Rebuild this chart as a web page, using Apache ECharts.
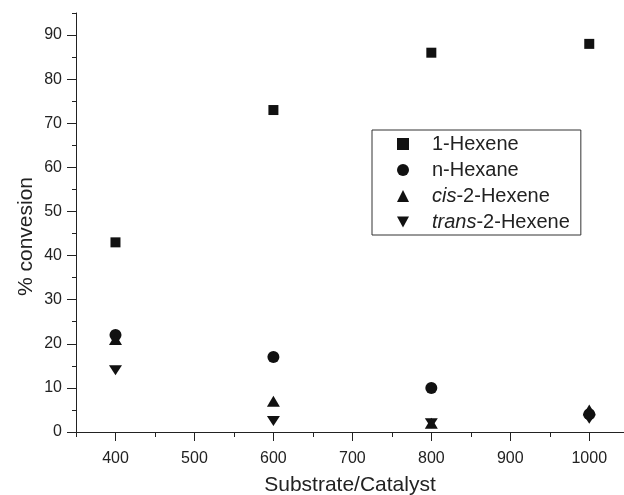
<!DOCTYPE html>
<html>
<head>
<meta charset="utf-8">
<script src="https://cdn.jsdelivr.net/npm/echarts@6/dist/echarts.min.js"></script>
<style>
html, body { margin: 0; padding: 0; background: #fff; }
#main { width: 624px; height: 495px; }
</style>
</head>
<body>
<div id="main"></div>
<script>
var ratios = [400, 600, 800, 1000];
var hexene1 = [43, 73, 86, 88];
var nHexane = [22, 17, 10, 4];
var cis2 = [21, 7, 2, 5];
var trans2 = [14, 2.5, 2, 3];

var xMajor = [400, 500, 600, 700, 800, 900, 1000];
var xMinor = [350, 450, 550, 650, 750, 850, 950];
var yMajor = [0, 10, 20, 30, 40, 50, 60, 70, 80, 90];
var yMinor = [5, 15, 25, 35, 45, 55, 65, 75, 85, 95];

var ink = '#111';
var font = 'Liberation Sans, Arial, sans-serif';
var downTri = 'path://M0,0 L12,0 L6,11 Z';

function pairs(ys) {
    return ratios.map(function (x, i) { return [x, ys[i]]; });
}

var chart = echarts.init(document.getElementById('main'));

var option = {
    animation: false,
    textStyle: { fontFamily: font, color: '#222' },
    grid: { left: 76, right: 0, top: 13, bottom: 63, outerBoundsMode: 'none', containLabel: false },
    legend: {
        orient: 'vertical',
        left: 372,
        top: 130,
        padding: [4, 11, 3, 25],
        itemWidth: 12,
        itemHeight: 12,
        itemGap: 6,
        borderColor: '#333',
        borderWidth: 1,
        textStyle: {
            fontFamily: font,
            fontSize: 20,
            color: '#222',
            padding: [0, 0, 0, 18],
            rich: { i: { fontStyle: 'italic', fontSize: 20, fontFamily: font, color: '#222' } }
        },
        formatter: function (name) {
            if (name === 'cis-2-Hexene') return '{i|cis}-2-Hexene';
            if (name === 'trans-2-Hexene') return '{i|trans}-2-Hexene';
            return name;
        },
        data: ['1-Hexene', 'n-Hexane', 'cis-2-Hexene', 'trans-2-Hexene']
    },
    xAxis: [{
        type: 'value',
        min: 350,
        max: 1044,
        name: 'Substrate/Catalyst',
        nameLocation: 'middle',
        nameGap: 43,
        nameMoveOverlap: false,
        nameTextStyle: { fontSize: 21, color: '#222', fontFamily: font },
        splitLine: { show: false },
        axisLine: { lineStyle: { color: '#222', width: 1 } },
        axisTick: { inside: false, length: 9, customValues: xMajor, lineStyle: { color: '#222' } },
        axisLabel: {
            fontSize: 16, color: '#222', margin: 19, customValues: xMajor,
            formatter: function (v) { return String(v); }
        }
    }, {
        type: 'value',
        min: 350,
        max: 1044,
        position: 'bottom',
        splitLine: { show: false },
        axisLine: { show: false },
        axisTick: { length: 5, customValues: xMinor, lineStyle: { color: '#222' } },
        axisLabel: { show: false }
    }],
    yAxis: [{
        type: 'value',
        min: 0,
        max: 95,
        name: '% convesion',
        nameLocation: 'middle',
        nameGap: 39,
        nameMoveOverlap: false,
        nameTextStyle: { fontSize: 21, color: '#222', fontFamily: font, padding: [0, 28, 0, 0] },
        splitLine: { show: false },
        axisLine: { lineStyle: { color: '#222', width: 1 } },
        axisTick: { length: 9, customValues: yMajor, lineStyle: { color: '#222' } },
        axisLabel: { fontSize: 16, color: '#222', margin: 14, customValues: yMajor }
    }, {
        type: 'value',
        min: 0,
        max: 95,
        position: 'left',
        splitLine: { show: false },
        axisLine: { show: false },
        axisTick: { length: 4, customValues: yMinor, lineStyle: { color: '#222' } },
        axisLabel: { show: false }
    }],
    series: [{
        name: '1-Hexene',
        type: 'scatter',
        symbol: 'rect',
        symbolSize: 10,
        symbolKeepAspect: true,
        itemStyle: { color: ink, opacity: 1 },
        data: pairs(hexene1)
    }, {
        name: 'n-Hexane',
        type: 'scatter',
        symbol: 'circle',
        symbolSize: 12,
        symbolKeepAspect: true,
        itemStyle: { color: ink, opacity: 1 },
        data: pairs(nHexane)
    }, {
        name: 'cis-2-Hexene',
        type: 'scatter',
        symbol: 'triangle',
        symbolSize: [13, 11],
        symbolKeepAspect: true,
        itemStyle: { color: ink, opacity: 1 },
        data: pairs(cis2)
    }, {
        name: 'trans-2-Hexene',
        type: 'scatter',
        symbol: downTri,
        symbolSize: [13, 11],
        symbolKeepAspect: true,
        itemStyle: { color: ink, opacity: 1 },
        data: pairs(trans2)
    }]
};

chart.setOption(option);
</script>
</body>
</html>
